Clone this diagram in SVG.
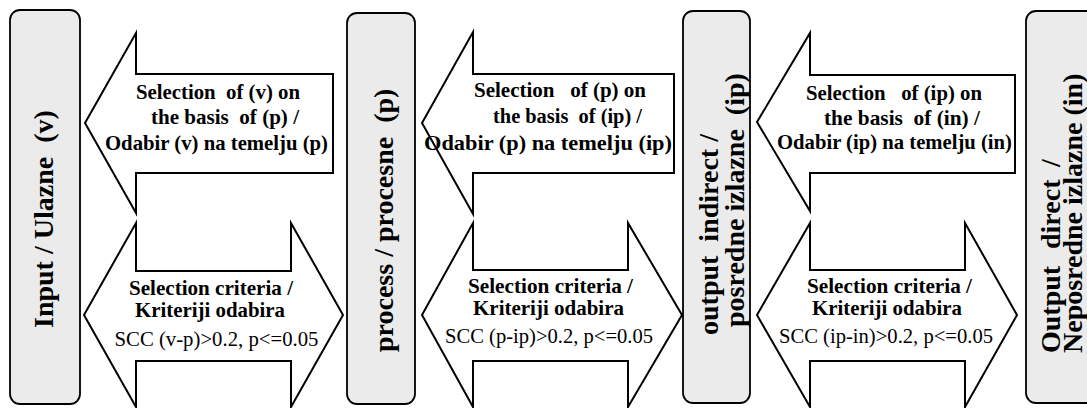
<svg xmlns="http://www.w3.org/2000/svg" width="1087" height="408" viewBox="0 0 1087 408">
<style>
.box{fill:#ebebeb;stroke:#000;stroke-width:1.8}
.arr{fill:#fff;stroke:#000;stroke-width:2;stroke-linejoin:miter}
.lbl{font-family:"Liberation Serif","Times New Roman",serif;font-weight:bold;font-size:28px;fill:#000}
.at{font-family:"Liberation Serif","Times New Roman",serif;font-weight:bold;font-size:21px;fill:#000;text-anchor:middle}
.ar{font-family:"Liberation Serif","Times New Roman",serif;font-size:21px;fill:#000;text-anchor:middle}
</style>
<rect width="1087" height="408" fill="#fff"/>
<g id="connectors">
  <g id="arrow-v-p">
    <polygon class="arr" points="85,123 136,33 136,74 333,74 333,173 136,173 136,213"/>
    <text class="at" xml:space="preserve" x="218" y="99" textLength="164" lengthAdjust="spacingAndGlyphs">Selection  of (v) on</text>
    <text class="at" xml:space="preserve" x="225" y="124" textLength="148" lengthAdjust="spacingAndGlyphs">the basis  of (p) /</text>
    <text class="at" x="216.5" y="150" textLength="223" lengthAdjust="spacingAndGlyphs">Odabir (v) na temelju (p)</text>
  </g>
  <g id="darrow-v-p">
    <polygon class="arr" points="84,315 136,223 136,271 291,271 291,223 343,315 291,407 291,361 136,361 136,407"/>
    <text class="at" x="211" y="295" textLength="164" lengthAdjust="spacingAndGlyphs">Selection criteria /</text>
    <text class="at" x="210" y="317" textLength="150" lengthAdjust="spacingAndGlyphs">Kriteriji odabira</text>
    <text class="ar" x="216.5" y="346" textLength="204" lengthAdjust="spacingAndGlyphs">SCC (v-p)&gt;0.2, p&lt;=0.05</text>
  </g>
  <g id="arrow-p-ip">
    <polygon class="arr" points="422,123 473,32 473,74 674,74 674,173 473,173 473,214"/>
    <text class="at" xml:space="preserve" x="560" y="97" textLength="172" lengthAdjust="spacingAndGlyphs">Selection   of (p) on</text>
    <text class="at" xml:space="preserve" x="567.5" y="123" textLength="149" lengthAdjust="spacingAndGlyphs">the basis  of (ip) /</text>
    <text class="at" x="548" y="150" textLength="248" lengthAdjust="spacingAndGlyphs">Odabir (p) na temelju (ip)</text>
  </g>
  <g id="darrow-p-ip">
    <polygon class="arr" points="422,315 473,223 473,270 628,270 628,223 682,315 628,407 628,361 473,361 473,407"/>
    <text class="at" x="550.5" y="293" textLength="165" lengthAdjust="spacingAndGlyphs">Selection criteria /</text>
    <text class="at" x="548.5" y="315" textLength="151" lengthAdjust="spacingAndGlyphs">Kriteriji odabira</text>
    <text class="ar" x="549" y="343" textLength="208" lengthAdjust="spacingAndGlyphs">SCC (p-ip)&gt;0.2, p&lt;=0.05</text>
  </g>
  <g id="arrow-ip-in">
    <polygon class="arr" points="757,122 810,33 810,75 1015,75 1015,173 810,173 810,211"/>
    <text class="at" xml:space="preserve" x="894" y="100" textLength="176" lengthAdjust="spacingAndGlyphs">Selection   of (ip) on</text>
    <text class="at" xml:space="preserve" x="902" y="125" textLength="156" lengthAdjust="spacingAndGlyphs">the basis  of (in) /</text>
    <text class="at" x="894.5" y="149" textLength="235" lengthAdjust="spacingAndGlyphs">Odabir (ip) na temelju (in)</text>
  </g>
  <g id="darrow-ip-in">
    <polygon class="arr" points="757,315 810,223 810,270 965,270 965,223 1017,315 965,407 965,361 810,361 810,407"/>
    <text class="at" x="889.5" y="293" textLength="165" lengthAdjust="spacingAndGlyphs">Selection criteria /</text>
    <text class="at" x="887" y="315" textLength="150" lengthAdjust="spacingAndGlyphs">Kriteriji odabira</text>
    <text class="ar" x="886" y="343" textLength="214" lengthAdjust="spacingAndGlyphs">SCC (ip-in)&gt;0.2, p&lt;=0.05</text>
  </g>
</g>
<g id="node-input">
  <rect class="box" x="10" y="10" width="70" height="394" rx="10"/>
  <text class="lbl" xml:space="preserve" transform="translate(53,328) rotate(-90)">Input / Ulazne  (v)</text>
</g>
<g id="node-process">
  <rect class="box" x="347" y="13" width="68" height="391" rx="10"/>
  <text class="lbl" xml:space="preserve" transform="translate(393,352) rotate(-90)">process / procesne  (p)</text>
</g>
<g id="node-output-indirect">
  <rect class="box" x="683" y="11" width="67" height="392" rx="10"/>
  <text class="lbl" xml:space="preserve" transform="translate(718,335) rotate(-90)">output  indirect /</text>
  <text class="lbl" xml:space="preserve" transform="translate(744,327) rotate(-90)">posredne izlazne  (ip)</text>
</g>
<g id="node-output-direct">
  <rect class="box" x="1026" y="11" width="80" height="392" rx="10"/>
  <text class="lbl" transform="translate(1060,353) rotate(-90)"><tspan x="0">Output</tspan><tspan x="104">direct</tspan><tspan x="186">/</tspan></text>
  <text class="lbl" xml:space="preserve" transform="translate(1082,353) rotate(-90)">Neposredne izlazne (in)</text>
</g>
</svg>
